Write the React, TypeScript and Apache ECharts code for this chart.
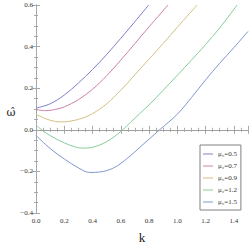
import React, { useEffect, useRef } from "react";
import * as echarts from "echarts";

const seriesNames = ["μ₀=0.5", "μ₀=0.7", "μ₀=0.9", "μ₀=1.2", "μ₀=1.5"];
const seriesColors = ["#7e7ecc", "#cc80ac", "#d2c084", "#86cc98", "#7e98cc"];

const mu05: [number, number][] = [
  [0, 0.104], [0.1, 0.125], [0.2, 0.167], [0.3, 0.225], [0.4, 0.29],
  [0.5, 0.362], [0.6, 0.44], [0.7, 0.52], [0.797, 0.6],
];
const mu07: [number, number][] = [
  [0, 0.097], [0.07, 0.092], [0.15, 0.1], [0.2, 0.11], [0.3, 0.145], [0.4, 0.195],
  [0.5, 0.26], [0.6, 0.335], [0.7, 0.415], [0.8, 0.495], [0.934, 0.6],
];
const mu09: [number, number][] = [
  [0, 0.074], [0.1, 0.046], [0.18, 0.038], [0.3, 0.05], [0.4, 0.078],
  [0.5, 0.125], [0.6, 0.19], [0.7, 0.265], [0.8, 0.34], [0.9, 0.415],
  [1.0, 0.493], [1.14, 0.6],
];
const mu12: [number, number][] = [
  [0, 0.022], [0.05, -0.005], [0.1, -0.028], [0.2, -0.063], [0.28, -0.083],
  [0.33, -0.088], [0.4, -0.084], [0.5, -0.057], [0.6, -0.008], [0.667, 0.035],
  [0.8, 0.12], [0.9, 0.19], [1.0, 0.262], [1.1, 0.335], [1.2, 0.41],
  [1.3, 0.49], [1.423, 0.6],
];
const mu15: [number, number][] = [
  [0, -0.027], [0.1, -0.09], [0.2, -0.14], [0.3, -0.183], [0.38, -0.205],
  [0.45, -0.203], [0.55, -0.183], [0.65, -0.135], [0.75, -0.075], [0.875, 0],
  [1.0, 0.075], [1.1, 0.155], [1.2, 0.24], [1.3, 0.32], [1.4, 0.395], [1.5, 0.473],
];
const allSeries = [mu05, mu07, mu09, mu12, mu15];

const xTicks = [0, 0.2, 0.4, 0.6, 0.8, 1.0, 1.2, 1.4];
const yTicks = [-0.4, -0.2, 0, 0.2, 0.4, 0.6];

const FONT = "Liberation Serif";
const AXIS_COLOR = "#a8a8a8";
const LABEL_COLOR = "#333";

export default function App() {
  const ref = useRef<HTMLDivElement>(null);
  useEffect(() => {
    document.body.style.margin = "0";
    if (!ref.current) return;
    const chart = echarts.init(ref.current, null, { renderer: "svg" });
    const fmt = (v: number) => {
      const s = Math.abs(v).toFixed(1);
      return v < -1e-9 ? "−" + s : s;
    };
    const baseAxisLine = { show: true, lineStyle: { color: AXIS_COLOR, width: 1 } };
    const tick = { show: true, inside: true, length: 4, lineStyle: { color: AXIS_COLOR } };
    const minor = { show: true, splitNumber: 4, length: 2, lineStyle: { color: AXIS_COLOR } };
    chart.setOption({
      animation: false,
      grid: { left: 36, right: 1, top: 5, bottom: 32 },
      legend: {
        show: true,
        left: 200,
        top: 145,
        orient: "vertical",
        data: seriesNames,
        icon: "rect",
        itemWidth: 10,
        itemHeight: 1,
        itemGap: 4,
        padding: [5, 4, 4, 3],
        borderColor: "#808080",
        borderWidth: 1,
        backgroundColor: "#fff",
        textStyle: { fontFamily: FONT, fontSize: 7, lineHeight: 8, color: LABEL_COLOR },
      },
      graphic: [
        {
          type: "text",
          x: 11,
          y: 112,
          style: {
            text: "ω\u0302",
            font: "11px 'DejaVu Serif'",
            fill: "#222",
            align: "center",
            verticalAlign: "middle",
          },
        },
      ],
      xAxis: [
        {
          type: "value",
          min: 0,
          max: 1.5,
          interval: 0.2,
          position: "bottom",
          name: "k",
          nameLocation: "middle",
          nameGap: 18,
          nameTextStyle: { fontFamily: FONT, fontSize: 13, color: "#222" },
          axisLine: baseAxisLine,
          axisTick: tick,
          minorTick: minor,
          splitLine: { show: false },
          axisLabel: {
            fontFamily: FONT,
            fontSize: 7,
            color: LABEL_COLOR,
            margin: 4,
            showMaxLabel: false,
            formatter: (v: number) => (xTicks.some((t) => Math.abs(t - v) < 1e-6) ? fmt(v) : ""),
          },
        },
        {
          type: "value",
          min: 0,
          max: 1.5,
          interval: 0.2,
          position: "top",
          axisLine: baseAxisLine,
          axisTick: tick,
          minorTick: minor,
          splitLine: { show: false },
          axisLabel: { show: false },
        },
      ],
      yAxis: [
        {
          type: "value",
          min: -0.4,
          max: 0.6,
          interval: 0.2,
          position: "left",
          axisLine: baseAxisLine,
          axisTick: tick,
          minorTick: minor,
          splitLine: { show: false },
          axisLabel: {
            fontFamily: FONT,
            fontSize: 7,
            color: LABEL_COLOR,
            margin: 3,
            formatter: (v: number) => (yTicks.some((t) => Math.abs(t - v) < 1e-6) ? fmt(v) : ""),
          },
        },
        {
          type: "value",
          min: -0.4,
          max: 0.6,
          interval: 0.2,
          position: "right",
          axisLine: baseAxisLine,
          axisTick: tick,
          minorTick: minor,
          splitLine: { show: false },
          axisLabel: { show: false },
        },
      ],
      series: allSeries.map((d, i) => ({
        type: "line",
        name: seriesNames[i],
        data: d,
        smooth: 0.35,
        symbol: "none",
        clip: true,
        lineStyle: { color: seriesColors[i], width: 1 },
        itemStyle: { color: seriesColors[i] },
        markLine:
          i === 0
            ? {
                silent: true,
                symbol: "none",
                label: { show: false },
                lineStyle: { color: "#a0a0a0", width: 1, type: "solid" },
                data: [{ yAxis: 0 }],
              }
            : undefined,
      })),
    });
    return () => chart.dispose();
  }, []);
  return <div ref={ref} style={{ width: 249, height: 249 }} />;
}
